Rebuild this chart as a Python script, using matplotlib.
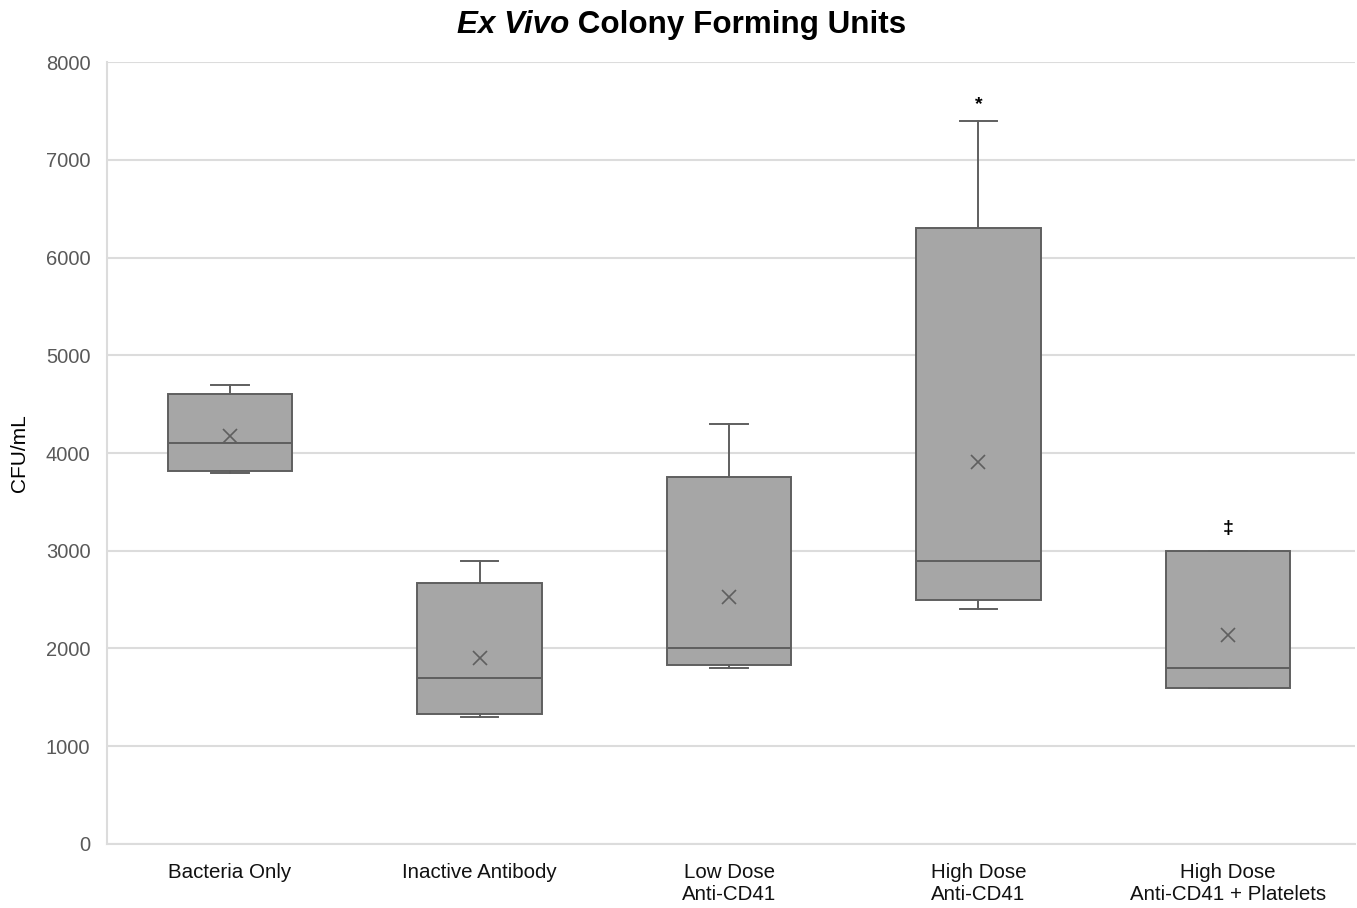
import matplotlib
matplotlib.use("Agg")
import matplotlib.pyplot as plt

plt.rcParams['font.family'] = ['Liberation Sans', 'DejaVu Sans']

# five-number summaries (CFU/mL) plus group means
groups = ['Bacteria Only', 'Inactive Antibody', 'Low Dose\nAnti-CD41',
          'High Dose\nAnti-CD41', 'High Dose\nAnti-CD41 + Platelets']
mins = [3800, 1300, 1800, 2400, 1600]
q1s = [3820, 1330, 1830, 2500, 1600]
medians = [4100, 1700, 2000, 2900, 1800]
q3s = [4600, 2670, 3750, 6300, 3000]
maxs = [4700, 2900, 4300, 7400, 3000]
means = [4170, 1900, 2530, 3910, 2140]

# significance markers above selected groups
sig_marks = {4: ('*', 7560), 5: ('\u2021', 3230)}

yticks = [0, 1000, 2000, 3000, 4000, 5000, 6000, 7000, 8000]

stats = []
for i in range(len(groups)):
    stats.append(dict(whislo=mins[i], q1=q1s[i], med=medians[i], q3=q3s[i],
                      whishi=maxs[i], mean=means[i], fliers=[], label=groups[i]))

edge = '#5f5f5f'
fig = plt.figure(figsize=(13.57, 9.08), dpi=100)
ax = fig.add_axes([0.0789, 0.0705, 0.9196, 0.8612])

ax.bxp(stats, positions=range(1, len(groups) + 1), widths=0.5, capwidths=0.15,
       patch_artist=True, showmeans=True, showfliers=False,
       boxprops=dict(facecolor='#a6a6a6', edgecolor=edge, linewidth=1.4),
       medianprops=dict(color=edge, linewidth=1.4),
       whiskerprops=dict(color=edge, linewidth=1.4),
       capprops=dict(color=edge, linewidth=1.4),
       meanprops=dict(marker='x', markeredgecolor=edge, markersize=10,
                      markeredgewidth=1.2), zorder=3)

for pos, (sym, yv) in sig_marks.items():
    ax.text(pos, yv, sym, ha='center', va='center', fontsize=14,
            fontweight='bold', color='black')

ax.set_xlim(0.507, 5.509)
ax.set_ylim(0, 8000)
ax.set_yticks(yticks)
ax.yaxis.grid(True, color='#dcdcdc', linewidth=1.5, zorder=0)
ax.set_axisbelow(True)
for s in ['top', 'right']:
    ax.spines[s].set_visible(False)
for s in ['left', 'bottom']:
    ax.spines[s].set_color('#dcdcdc')
    ax.spines[s].set_linewidth(1.5)
ax.tick_params(axis='y', length=0, pad=12, labelsize=14.5, labelcolor='#595959')
ax.tick_params(axis='x', length=0, pad=14, labelsize=14.8, labelcolor='#111111')
ax.set_ylabel('CFU/mL', fontsize=15, labelpad=12)

# title: italic part followed by upright part, centred together
t1 = fig.text(0, 0.972, 'Ex Vivo', fontsize=22.6, fontweight='bold',
              fontstyle='italic', va='center')
t2 = fig.text(0, 0.972, ' Colony Forming Units', fontsize=22.6,
              fontweight='bold', va='center')
fig.canvas.draw()
r = fig.canvas.get_renderer()
w1 = t1.get_window_extent(r).width / fig.bbox.width
w2 = t2.get_window_extent(r).width / fig.bbox.width
x0 = 0.502 - (w1 + w2) / 2
t1.set_x(x0)
t2.set_x(x0 + w1)

fig.savefig('out.png', dpi=100, facecolor='white')
